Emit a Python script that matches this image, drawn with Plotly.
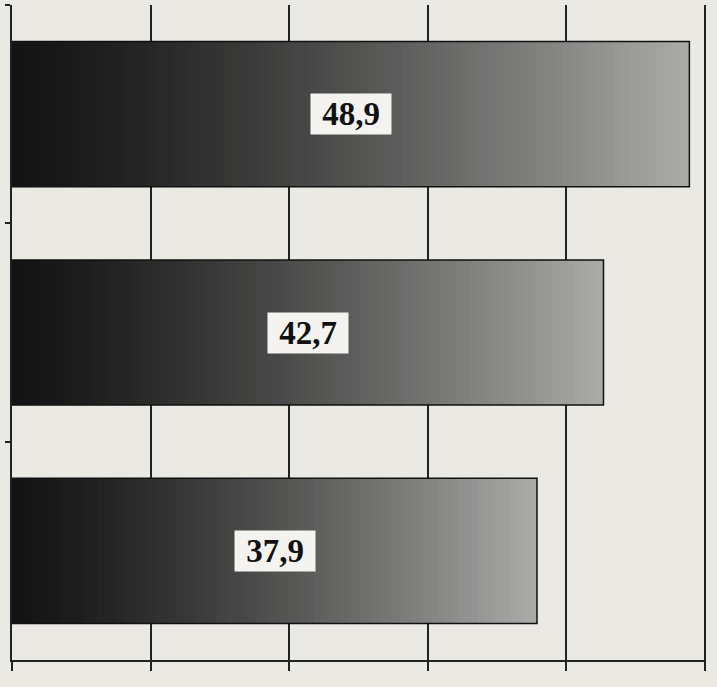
import plotly.graph_objects as go

categories = ["A", "B", "C"]
values = [48.9, 42.7, 37.9]
labels = ["48,9", "42,7", "37,9"]

N = 80
bg = "#ebe9e3"

def shade(t):
    # dark (left) to light grey (right), per bar
    c0 = (20, 20, 20)
    c1 = (172, 172, 170)
    t = t ** 1.3
    r, g, b = [int(a + (b_ - a) * t) for a, b_ in zip(c0, c1)]
    return f"rgb({r},{g},{b})"

fig = go.Figure()
for k in range(N):
    seg_base = [v * k / N for v in values]
    seg_len = [v * (N - k) / N for v in values]
    fig.add_trace(go.Bar(
        y=categories, x=seg_len, base=seg_base, orientation="h",
        marker=dict(color=shade((k + 0.5) / N), line=dict(width=0)),
        width=0.665, hoverinfo="skip", showlegend=False))

fig.add_trace(go.Bar(
    y=categories, x=values, base=[0, 0, 0], orientation="h",
    marker=dict(color="rgba(0,0,0,0)", line=dict(color="#111", width=1.5)),
    width=0.665, showlegend=False))

for c, v, t in zip(categories, values, labels):
    fig.add_annotation(x=v / 2, y=c, text=f"<b>{t}</b>", showarrow=False,
                       font=dict(family="Liberation Serif", size=33, color="#111"),
                       bgcolor="#f4f3ef", width=78, height=38, borderpad=1)

fig.update_layout(
    width=717, height=687, barmode="overlay",
    paper_bgcolor=bg, plot_bgcolor=bg,
    margin=dict(l=12, r=11, t=5, b=27),
    xaxis=dict(range=[0, 50.1], tickvals=[0, 10, 20, 30, 40, 50], showgrid=True,
               gridcolor="#222", gridwidth=1.5,
               showticklabels=False, ticks="outside", ticklen=9, tickcolor="#222", tickwidth=1.5,
               showline=True, linecolor="#222", linewidth=1.5, zeroline=False),
    yaxis=dict(autorange="reversed", showticklabels=False, showgrid=False,
               ticks="outside", tickson="boundaries", ticklen=5, tickcolor="#222", tickwidth=1.5,
               showline=True, linecolor="#222", linewidth=1.5, mirror=False),
)

fig.write_html("out.html", config={"displayModeBar": False},
               post_script="document.body.style.margin='0';")
